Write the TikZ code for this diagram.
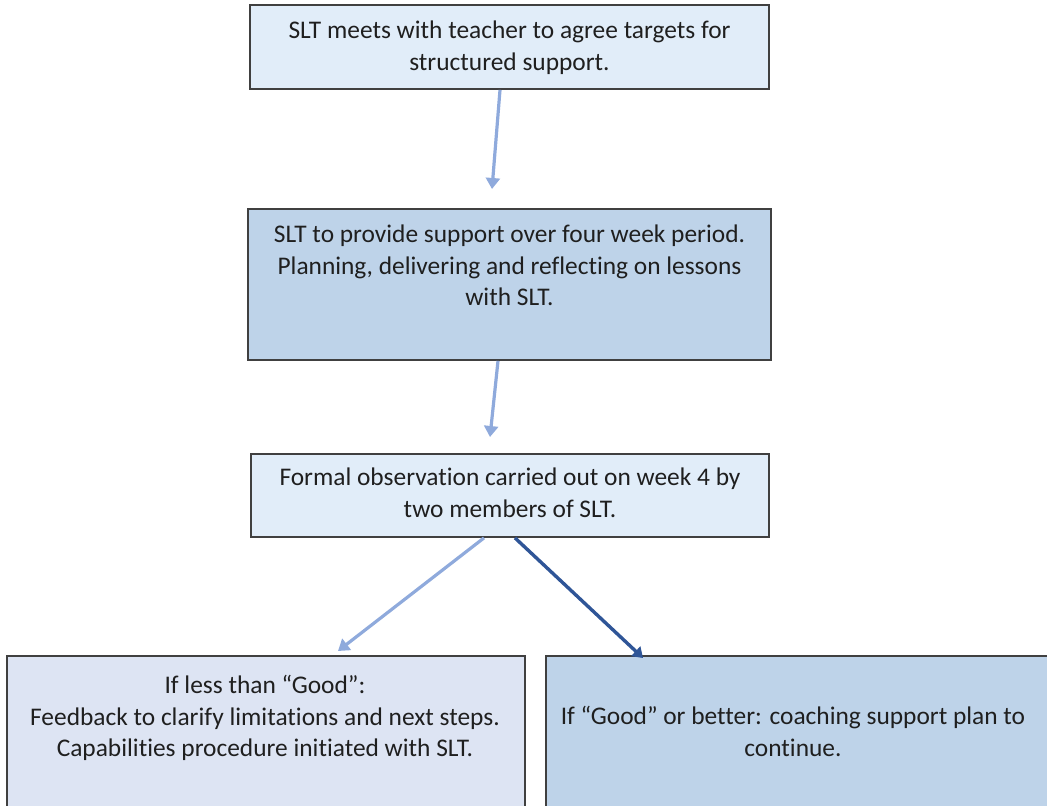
\documentclass[tikz,border=0pt]{standalone}
\usepackage{fontspec}
\setmainfont[Ligatures=CommonOff]{Carlito}
\usetikzlibrary{arrows.meta}
\definecolor{boxlight}{HTML}{E1EDF9}
\definecolor{boxmid}{HTML}{BED3E9}
\definecolor{boxlav}{HTML}{DDE4F3}
\definecolor{arrlight}{HTML}{8FAADC}
\definecolor{arrdark}{HTML}{2F5597}
\definecolor{edge}{HTML}{404040}
\tikzset{
  flowbox/.style={draw=edge, line width=1.8pt, rectangle, inner sep=0pt},
  flowtext/.style={font=\fontsize{25.4}{31.5}\selectfont, text=black!88, align=center, inner sep=0pt, anchor=north},
  lightarrow/.style={draw=arrlight, line width=3.2pt, -{Triangle[length=11pt,width=14pt]}},
  darkarrow/.style={draw=arrdark, line width=3.4pt, -{Triangle[length=10pt,width=13pt]}},
}
\begin{document}
\begin{tikzpicture}[x=1pt,y=-1pt]
\useasboundingbox (0,0) rectangle (1047,806);
\begin{scope}
\clip (0,0) rectangle (1047,806);
% boxes
\node[flowbox, fill=boxlight, minimum width=519pt, minimum height=84pt] (b1) at (509.5,47) {};
\node[flowbox, fill=boxmid, minimum width=523pt, minimum height=151pt] (b2) at (509.5,284.5) {};
\node[flowbox, fill=boxlight, minimum width=518pt, minimum height=83pt] (b3) at (510,495.5) {};
\node[flowbox, fill=boxlav, minimum width=518pt, minimum height=180pt] (b4) at (266,746) {};
\node[flowbox, fill=boxmid, minimum width=540pt, minimum height=180pt] (b5) at (816,746) {};
\end{scope}
% texts
\node[flowtext] (t1) at (509.5,21) {SLT meets with teacher to agree targets for\\structured support.};
\node[flowtext] (t2) at (509.5,225) {SLT to provide support over four week period.\\Planning, delivering and reflecting on lessons\\with SLT.};
\node[flowtext] (t3) at (510,468) {Formal observation carried out on week 4 by\\two members of SLT.};
\node[flowtext] (t4) at (265,675) {If less than “Good”:\\Feedback to clarify limitations and next steps.\\Capabilities procedure initiated with SLT.};
\node[flowtext] (t5) at (793,706) {If “Good” or better: coaching support plan to\\continue.};
% arrow ends
\coordinate (e1) at (492,189);
\coordinate (e2) at (490,437);
\coordinate (e3) at (338,651);
\coordinate (e4) at (643,658);
% connectors
\draw[lightarrow] (b1.south -| 500,0) -- (e1);
\draw[lightarrow] (b2.south -| 498,0) -- (e2);
\draw[lightarrow] (b3.south -| 484,0) -- (e3);
\draw[darkarrow] (b3.south -| 515,0) -- (e4);
\end{tikzpicture}
\end{document}
